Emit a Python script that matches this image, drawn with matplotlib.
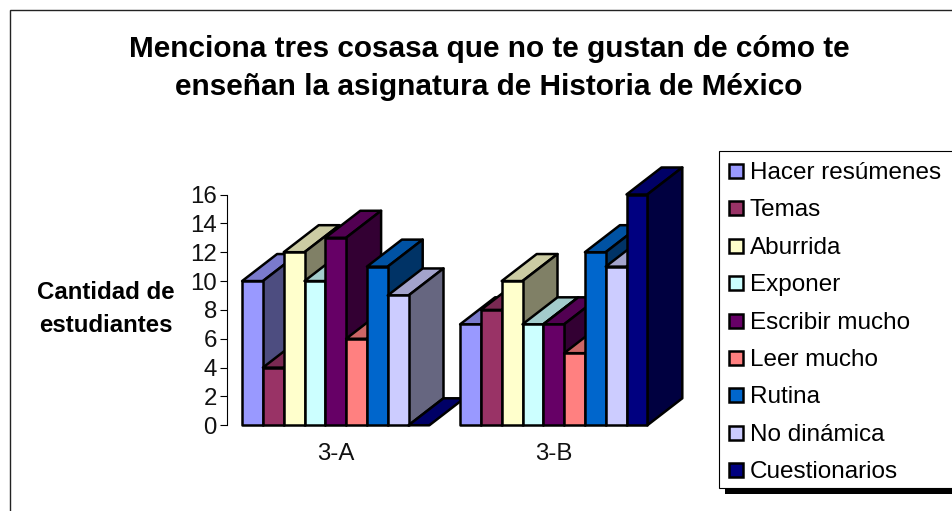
import matplotlib
matplotlib.use('Agg')
import matplotlib.pyplot as plt
from matplotlib.colors import to_rgb
from matplotlib.patches import Polygon, Rectangle

plt.rcParams['font.family'] = ['Liberation Sans', 'DejaVu Sans']

groups = ['3-A', '3-B']
labels = ['Hacer resúmenes', 'Temas', 'Aburrida', 'Exponer', 'Escribir mucho',
          'Leer mucho', 'Rutina', 'No dinámica', 'Cuestionarios']
values_a = [10, 4, 12, 10, 13, 6, 11, 9, 0]
values_b = [7, 8, 10, 7, 7, 5, 12, 11, 16]
colors = ['#9999FF', '#993366', '#FFFFCC', '#CCFFFF', '#660066',
          '#FF8080', '#0066CC', '#CCCCFF', '#000080']
yticks = list(range(0, 17, 2))
title = 'Menciona tres cosasa que no te gustan de cómo te\nenseñan la asignatura de Historia de México'
ylabel = 'Cantidad de\nestudiantes'

W, H = 953, 511


def shade(color, k):
    return tuple(c * k for c in to_rgb(color))


def px_rect(x0, y0, x1, y1):
    # pixel box, origin top left, to figure fractions
    return [x0 / W, 1 - y1 / H, (x1 - x0) / W, (y1 - y0) / H]


def draw_bar(ax, x, width, val, color, dx, dy):
    lw = 1.8
    top = [(x, val), (x + width, val), (x + width + dx, val + dy), (x + dx, val + dy)]
    side = [(x + width, 0), (x + width + dx, dy), (x + width + dx, val + dy), (x + width, val)]
    ax.add_patch(Polygon(top, fc=shade(color, 0.8), ec='black', lw=lw, clip_on=False, joinstyle='round'))
    if val > 0:
        ax.add_patch(Polygon(side, fc=shade(color, 0.5), ec='black', lw=lw, clip_on=False, joinstyle='round'))
        ax.add_patch(Rectangle((x, 0), width, val, fc=color, ec='black', lw=lw, clip_on=False, joinstyle='round'))


def main():
    fig = plt.figure(figsize=(W / 100, H / 100), dpi=100)

    # chart frame, runs off the right and bottom sides
    fig.add_artist(Rectangle((10 / W, 1 - 530 / H), 960 / W, 520 / H, transform=fig.transFigure,
                             fc='white', ec='#222222', lw=1.0, zorder=-3))

    fig.text(489 / W, 1 - 68 / H, title, ha='center', va='center', fontsize=21.4,
             fontweight='bold', linespacing=1.44, zorder=-1)
    fig.text(105.5 / W, 1 - 309 / H, ylabel, ha='center', va='center', fontsize=17.3,
             fontweight='bold', linespacing=1.57, zorder=-1)

    ax = fig.add_axes(px_rect(226.7, 194.5, 662.7, 425.3))
    ax.set_xlim(0, 2)
    ax.set_ylim(0, 16)
    ax.patch.set_alpha(0)
    for s in ['top', 'right', 'bottom']:
        ax.spines[s].set_visible(False)
    ax.spines['left'].set_linewidth(0.8)
    ax.set_yticks(yticks)
    ax.tick_params(axis='y', labelsize=17.3, labelcolor='#111111', length=5, width=0.8, pad=2)
    ax.set_xticks([0.5, 1.5])
    ax.set_xticklabels(groups, fontsize=17.3, color='#111111')
    ax.tick_params(axis='x', length=0, pad=13)

    width = 20.8 / 218
    dx = 35 / 218
    dy = 27 / 14.42
    for g, vals in enumerate([values_a, values_b]):
        start = g + 0.5 - 4.5 * width
        for i, v in enumerate(vals):
            draw_bar(ax, start + i * width, width, v, colors[i], dx, dy)

    # legend box, also cut by the right side
    fig.add_artist(Rectangle((725 / W, 1 - 493.5 / H), 240 / W, 10 / H, transform=fig.transFigure,
                             fc='black', ec='black', lw=0, zorder=1))
    fig.add_artist(Rectangle((719.5 / W, 1 - 487.5 / H), 240 / W, 336.5 / H, transform=fig.transFigure,
                             fc='white', ec='black', lw=0.8, zorder=1))
    for i, lab in enumerate(labels):
        yc = 170.5 + i * 37.4
        fig.add_artist(Rectangle((728.5 / W, 1 - (yc + 7.5) / H), 14 / W, 14 / H, transform=fig.transFigure,
                                 fc=colors[i], ec='black', lw=1.8, zorder=2))
        fig.text(750 / W, 1 - yc / H, lab, ha='left', va='center_baseline', fontsize=17.5, zorder=2)

    fig.savefig('out.png', dpi=100)


main()
